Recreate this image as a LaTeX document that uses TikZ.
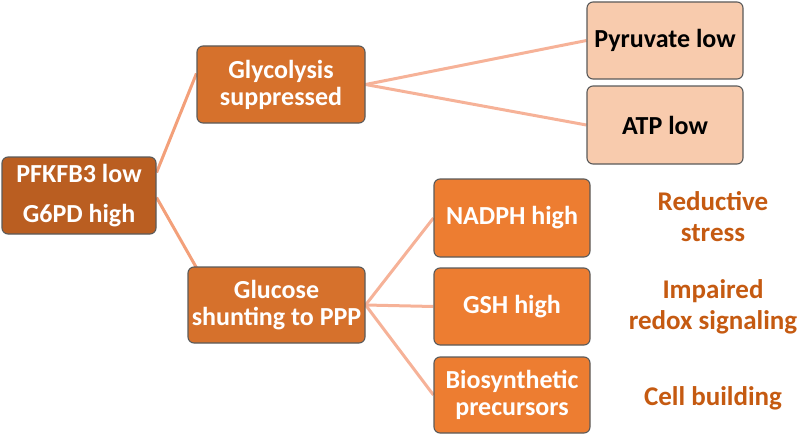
\documentclass[tikz,border=0pt]{standalone}
\usepackage{fontspec}
\setmainfont{Carlito}
\usetikzlibrary{backgrounds}
\definecolor{cDark}{RGB}{186,94,33}
\definecolor{cMid}{RGB}{214,113,44}
\definecolor{cOrange}{RGB}{237,125,49}
\definecolor{cPeach}{RGB}{248,203,173}
\definecolor{cLabel}{RGB}{197,90,17}
\definecolor{cLineA}{RGB}{243,160,122}
\definecolor{cLineB}{RGB}{246,178,152}
\definecolor{cBorder}{RGB}{90,90,90}
\tikzset{
  box/.style={draw=cBorder, line width=1.1pt, rounded corners=6pt, align=center,
    font=\bfseries\fontsize{26}{27}\selectfont, text=white, inner sep=2pt},
  darkbox/.style={box, fill=cDark, font=\bfseries\fontsize{26}{40}\selectfont},
  midbox/.style={box, fill=cMid},
  orbox/.style={box, fill=cOrange},
  peachbox/.style={box, fill=cPeach, text=black},
  outlabel/.style={align=center, text=cLabel, font=\bfseries\fontsize{27}{31}\selectfont},
  linkA/.style={draw=cLineA, line width=3pt},
  linkB/.style={draw=cLineB, line width=3pt}
}
\begin{document}
\begin{tikzpicture}[x=1pt,y=-1pt]
\useasboundingbox (0,0) rectangle (800,436);
\node[darkbox, minimum width=154pt, minimum height=77pt] (pf) at (79,195.5) {PFKFB3 low\\G6PD high};
\node[midbox, minimum width=168pt, minimum height=77pt] (gly) at (281,84.5) {Glycolysis\\suppressed};
\node[midbox, minimum width=177pt, minimum height=76pt] (glu) at (276.5,305) {Glucose\\shunting to PPP};
\node[peachbox, minimum width=156pt, minimum height=77pt] (pyr) at (665,40.5) {Pyruvate low};
\node[peachbox, minimum width=156pt, minimum height=78pt] (atp) at (665,125) {ATP low};
\node[orbox, minimum width=156pt, minimum height=78pt] (nad) at (512,218) {NADPH high};
\node[orbox, minimum width=156pt, minimum height=77pt] (gsh) at (512,306.5) {GSH high};
\node[orbox, minimum width=156pt, minimum height=76pt] (bio) at (512,395) {Biosynthetic\\precursors};
\node[outlabel] (l1) at (713,217) {Reductive\\stress};
\node[outlabel] (l2) at (713,307) {Impaired\\redox signaling};
\node[outlabel] (l3) at (713,398) {Cell building};
\begin{scope}[on background layer]
\draw[linkA] ([yshift=23pt]pf.east) -- ([yshift=11pt]gly.west);
\draw[linkA] ([yshift=-2pt]pf.east) -- ([xshift=10pt,yshift=-3pt]glu.north west);
\draw[linkB] (gly.east) -- (pyr.west);
\draw[linkB] (gly.east) -- (atp.west);
\draw[linkB] (glu.east) -- (nad.west);
\draw[linkB] (glu.east) -- (gsh.west);
\draw[linkB] (glu.east) -- (bio.west);
\end{scope}
\end{tikzpicture}
\end{document}
